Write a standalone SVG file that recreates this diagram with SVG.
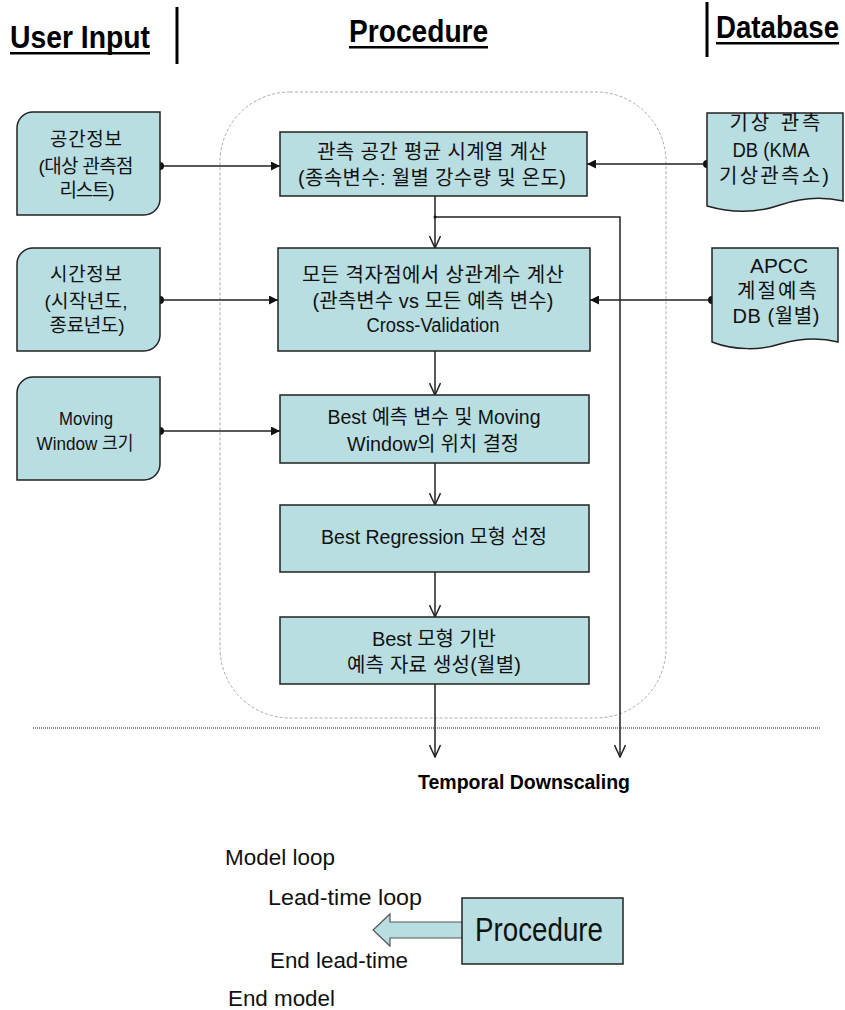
<svg xmlns="http://www.w3.org/2000/svg" width="845" height="1010" viewBox="0 0 845 1010">
<style>
.box{fill:#b8dee2;stroke:#222;stroke-width:1.5}
.t{font-family:'Liberation Sans','Noto Sans CJK KR',sans-serif;font-size:19px;fill:#111;text-anchor:middle}
.p{font-size:20px}
.h{font-family:'Liberation Sans',sans-serif;font-weight:bold;font-size:32px;fill:#000}
.b{font-family:'Liberation Sans','Noto Sans CJK KR',sans-serif;font-size:22px;fill:#111}
.ln{stroke:#222;stroke-width:1.5;fill:none}
.dot{fill:#111}
</style>
<defs>
<marker id="fa" viewBox="0 0 10 10" refX="10" refY="5" markerWidth="10" markerHeight="9" markerUnits="userSpaceOnUse" orient="auto"><path d="M0,0 L10,5 L0,10 z" fill="#111"/></marker>
<marker id="oa" viewBox="0 0 14 12" refX="13" refY="6" markerWidth="14" markerHeight="12" markerUnits="userSpaceOnUse" orient="auto"><path d="M1,0.5 L13,6 L1,11.5" fill="none" stroke="#222" stroke-width="1.5"/></marker>
</defs>
<rect width="845" height="1010" fill="#fff"/>

<g id="headers">
<text class="h" transform="translate(10,48) scale(0.885,1)">User Input</text>
<rect x="10" y="52" width="140" height="2.5" fill="#000"/>
<line x1="177" y1="7" x2="177" y2="64" stroke="#000" stroke-width="3"/>
<text class="h" transform="translate(349,42) scale(0.88,1)">Procedure</text>
<rect x="349" y="46" width="139" height="2.5" fill="#000"/>
<line x1="707" y1="2" x2="707" y2="57" stroke="#000" stroke-width="3"/>
<text class="h" transform="translate(716,38) scale(0.865,1)">Database</text>
<rect x="716" y="42" width="123" height="2.5" fill="#000"/>
</g>

<rect id="procedure-frame" x="220" y="92" width="446" height="626" rx="70" ry="70" fill="none" stroke="#aaa" stroke-width="1" stroke-dasharray="3 2"/>
<line id="separator" x1="33" y1="728" x2="820" y2="728" stroke="#666" stroke-width="1.5" stroke-dasharray="1 1"/>

<g id="connectors">
<line class="ln" x1="160" y1="166" x2="280" y2="166" marker-end="url(#fa)"/>
<line class="ln" x1="160" y1="300" x2="278" y2="300" marker-end="url(#fa)"/>
<line class="ln" x1="160" y1="431" x2="280" y2="431" marker-end="url(#fa)"/>
<line class="ln" x1="707" y1="164" x2="587" y2="164" marker-end="url(#fa)"/>
<line class="ln" x1="712" y1="300" x2="590" y2="300" marker-end="url(#fa)"/>
<circle class="dot" cx="160" cy="166" r="4"/>
<circle class="dot" cx="160" cy="300" r="4"/>
<circle class="dot" cx="160" cy="431" r="4"/>
<circle class="dot" cx="707" cy="164" r="4"/>
<circle class="dot" cx="712" cy="300" r="4"/>
<line class="ln" x1="435" y1="196" x2="435" y2="248" marker-end="url(#oa)"/>
<polyline class="ln" points="435,217 620,217 620,757" marker-end="url(#oa)"/>
<circle class="dot" cx="435" cy="217" r="1.5"/>
<line class="ln" x1="435" y1="351" x2="435" y2="395" marker-end="url(#oa)"/>
<line class="ln" x1="435" y1="463" x2="435" y2="505" marker-end="url(#oa)"/>
<line class="ln" x1="435" y1="572" x2="435" y2="617" marker-end="url(#oa)"/>
<line class="ln" x1="435" y1="684" x2="435" y2="757" marker-end="url(#oa)"/>
</g>

<g id="in-space">
<path class="box" d="M17,128 A16,16 0 0 1 33,112 H160 V199 A16,16 0 0 1 144,215 H17 Z"/>
<text class="t" x="86" y="146" textLength="72" lengthAdjust="spacing">공간정보</text>
<text class="t" x="86" y="173" textLength="95" lengthAdjust="spacing">(대상 관측점</text>
<text class="t" x="87" y="197" textLength="55" lengthAdjust="spacing">리스트)</text>
</g>
<g id="in-time">
<path class="box" d="M17,264 A16,16 0 0 1 33,248 H160 V335 A16,16 0 0 1 144,351 H17 Z"/>
<text class="t" x="86" y="281" textLength="72" lengthAdjust="spacing">시간정보</text>
<text class="t" x="86" y="308" textLength="83" lengthAdjust="spacing">(시작년도,</text>
<text class="t" x="87" y="332" textLength="75" lengthAdjust="spacing">종료년도)</text>
</g>
<g id="in-window">
<path class="box" d="M17,393 A16,16 0 0 1 33,377 H160 V464 A16,16 0 0 1 144,480 H17 Z"/>
<text class="t" x="86" y="425" font-size="18" textLength="54" lengthAdjust="spacingAndGlyphs">Moving</text>
<text class="t" x="85" y="450" font-size="18" textLength="97" lengthAdjust="spacingAndGlyphs">Window 크기</text>
</g>

<g id="db-kma">
<path class="box" d="M707,113 H843 V201 C822,196 800,198 780,205 C760,212 735,214 707,206 Z"/>
<text class="t p" x="775" y="130" textLength="91" lengthAdjust="spacing">기상 관측</text>
<text class="t p" x="771" y="157" textLength="77" lengthAdjust="spacingAndGlyphs">DB (KMA</text>
<text class="t p" x="774" y="183" textLength="110" lengthAdjust="spacing">기상관측소)</text>
</g>
<g id="db-apcc">
<path class="box" d="M712,248 H838 V342 C818,337 798,339 780,344 C762,350 735,351 712,342 Z"/>
<text class="t p" x="779" y="273" textLength="58" lengthAdjust="spacingAndGlyphs">APCC</text>
<text class="t p" x="777" y="298" textLength="80" lengthAdjust="spacing">계절예측</text>
<text class="t p" x="776" y="323" textLength="87" lengthAdjust="spacing">DB (월별)</text>
</g>

<g id="p1">
<rect class="box" x="280" y="132" width="307" height="64"/>
<text class="t p" x="432" y="159" textLength="230" lengthAdjust="spacing">관측 공간 평균 시계열 계산</text>
<text class="t p" x="432" y="185" textLength="268" lengthAdjust="spacing">(종속변수: 월별 강수량 및 온도)</text>
</g>
<g id="p2">
<rect class="box" x="278" y="248" width="312" height="103"/>
<text class="t p" x="433" y="282" textLength="262" lengthAdjust="spacing">모든 격자점에서  상관계수 계산</text>
<text class="t p" x="433" y="308" textLength="241" lengthAdjust="spacing">(관측변수 vs 모든 예측 변수)</text>
<text class="t p" x="433" y="332" textLength="133" lengthAdjust="spacingAndGlyphs">Cross-Validation</text>
</g>
<g id="p3">
<rect class="box" x="280" y="395" width="309" height="68"/>
<text class="t p" x="434" y="424" textLength="213" lengthAdjust="spacingAndGlyphs">Best 예측 변수 및 Moving</text>
<text class="t p" x="433" y="451" textLength="172" lengthAdjust="spacingAndGlyphs">Window의 위치 결정</text>
</g>
<g id="p4">
<rect class="box" x="280" y="505" width="309" height="67"/>
<text class="t p" x="434" y="544" textLength="226" lengthAdjust="spacingAndGlyphs">Best Regression  모형 선정</text>
</g>
<g id="p5">
<rect class="box" x="280" y="617" width="309" height="67"/>
<text class="t p" x="434" y="646" textLength="124" lengthAdjust="spacing">Best 모형 기반</text>
<text class="t p" x="434" y="672" textLength="174" lengthAdjust="spacing">예측 자료 생성(월별)</text>
</g>

<text id="temporal" x="418" y="789" font-family="'Liberation Sans',sans-serif" font-weight="bold" font-size="21" fill="#000" textLength="212" lengthAdjust="spacingAndGlyphs">Temporal  Downscaling</text>

<g id="legend">
<text class="b" x="225" y="865" textLength="110" lengthAdjust="spacingAndGlyphs">Model loop</text>
<text class="b" x="268" y="905" textLength="154" lengthAdjust="spacingAndGlyphs">Lead-time  loop</text>
<text class="b" x="270" y="968" textLength="138" lengthAdjust="spacingAndGlyphs">End lead-time</text>
<text class="b" x="228" y="1006" textLength="107" lengthAdjust="spacingAndGlyphs">End model</text>
<path d="M462,922 H390 V914 L373,930 L390,946 V938 H462" fill="#b8dee2" stroke="#555" stroke-width="1.2"/>
<g id="legend-procedure">
<rect class="box" x="462" y="898" width="161" height="66"/>
<text x="475" y="941" font-family="'Liberation Sans',sans-serif" font-size="33" fill="#111" textLength="128" lengthAdjust="spacingAndGlyphs">Procedure</text>
</g>
</g>
</svg>
